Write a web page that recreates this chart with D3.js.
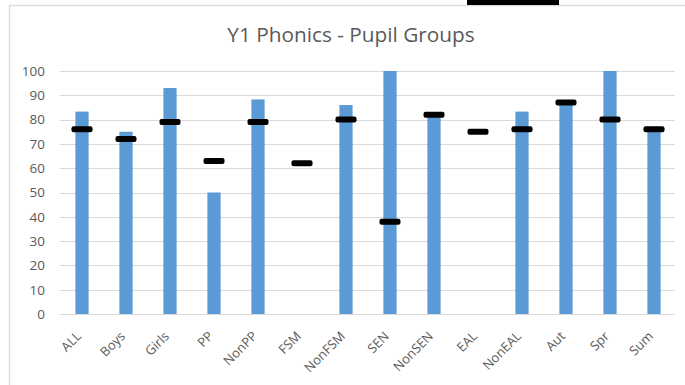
<!DOCTYPE html>
<html>
<head>
<meta charset="utf-8">
<script src="https://cdn.jsdelivr.net/npm/d3@7"></script>
<style>
  html, body { margin: 0; padding: 0; background: #fff; }
  svg { display: block; }
</style>
</head>
<body>
<svg id="chart" width="685" height="385"></svg>
<script>
// Pupil groups along the x axis
const categories = ["ALL", "Boys", "Girls", "PP", "NonPP", "FSM", "NonFSM", "SEN", "NonSEN", "EAL", "NonEAL", "Aut", "Spr", "Sum"];
// School percentage (bars); null where the group has no pupils
const schoolValues = [83.3, 75, 93, 50, 88.3, null, 86, 100, 81.5, null, 83.3, 87, 100, 75.7];
// Comparison percentage (black markers)
const compareValues = [76, 72, 79, 63, 79, 62, 80, 38, 82, 75, 76, 87, 80, 76];
// Y axis ticks
const yTicks = [0, 10, 20, 30, 40, 50, 60, 70, 80, 90, 100];

const title = "Y1 Phonics - Pupil Groups";
const font = "'Open Sans', 'Liberation Sans', sans-serif";

const svg = d3.select("#chart");
const W = 685, H = 385;
const plot = { left: 60, right: 676, top: 71, bottom: 314 };

// Outer chart frame
svg.append("line").attr("x1", 9.5).attr("x2", 9.5).attr("y1", 5).attr("y2", H)
  .attr("stroke", "#dedede").attr("stroke-width", 1.5);
svg.append("line").attr("x1", 9).attr("x2", W).attr("y1", 5.5).attr("y2", 5.5)
  .attr("stroke", "#dedede").attr("stroke-width", 1.5);
// Header block above the frame
svg.append("rect").attr("x", 467).attr("y", 0).attr("width", 92).attr("height", 5).attr("fill", "#000");

const x = d3.scaleBand()
  .domain(categories)
  .range([plot.left, plot.right])
  .paddingInner(0.7)
  .paddingOuter(0.35);

const y = d3.scaleLinear().domain([0, 100]).range([plot.bottom, plot.top]);

// Title
svg.append("text")
  .attr("x", 351).attr("y", 42)
  .attr("text-anchor", "middle")
  .attr("font-family", font)
  .attr("font-size", 20.8)
  .attr("fill", "#595959")
  .text(title);

// Gridlines
svg.append("g")
  .selectAll("line")
  .data(yTicks.filter(d => d > 0))
  .join("line")
  .attr("x1", plot.left).attr("x2", plot.right - 1)
  .attr("y1", d => Math.round(y(d)) + 0.5).attr("y2", d => Math.round(y(d)) + 0.5)
  .attr("stroke", "#d9d9d9").attr("stroke-width", 1);

// Y axis labels
const yAxis = d3.axisLeft(y).tickValues(yTicks).tickSize(0).tickPadding(0);
const yg = svg.append("g").attr("transform", `translate(45,0)`).call(yAxis);
yg.select(".domain").remove();
yg.selectAll("text")
  .attr("font-family", font).attr("font-size", 13.5).attr("fill", "#595959");

// Bars
svg.append("g")
  .selectAll("rect")
  .data(categories.map((c, i) => ({ c, v: schoolValues[i] })).filter(d => d.v !== null))
  .join("rect")
  .attr("x", d => x(d.c))
  .attr("width", x.bandwidth())
  .attr("y", d => y(d.v))
  .attr("height", d => y(0) - y(d.v))
  .attr("fill", "#5b9bd5");

// Baseline (x axis)
const xAxis = d3.axisBottom(x).tickSize(0).tickPadding(0);
const xg = svg.append("g").attr("transform", `translate(0,${plot.bottom})`).call(xAxis);
xg.select(".domain").attr("stroke", "#d9d9d9").attr("stroke-width", 1.2)
  .attr("d", `M${plot.left},0.5H${plot.right - 1}`);
xg.selectAll(".tick text")
  .attr("font-family", font).attr("font-size", 13).attr("fill", "#595959")
  .attr("text-anchor", "end")
  .attr("dy", null)
  .attr("transform", "translate(0,23) rotate(-45)");

// Comparison markers
svg.append("g")
  .selectAll("rect")
  .data(categories.map((c, i) => ({ c, v: compareValues[i] })))
  .join("rect")
  .attr("x", d => x(d.c) + x.bandwidth() / 2 - 10.5)
  .attr("y", d => y(d.v) - 3)
  .attr("width", 21)
  .attr("height", 6)
  .attr("rx", 2)
  .attr("fill", "#000");
</script>
</body>
</html>
